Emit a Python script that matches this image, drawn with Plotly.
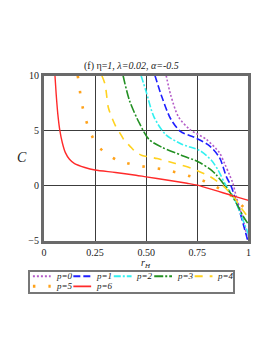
import plotly.graph_objects as go

W, H = 273, 353

# ---- data ----
labels = ["p=0", "p=1", "p=2", "p=3", "p=4", "p=5", "p=6"]

x_p0 = [0.598, 0.619, 0.658, 0.714, 0.794, 0.858, 0.884, 0.908, 0.924, 0.94, 0.96, 0.98, 0.998]
c_p0 = [10, 8.3, 6.25, 5.1, 4.2, 3.0, 2.0, 0.96, 0.23, -0.95, -2.2, -3.5, -5.0]

x_p1 = [0.543, 0.578, 0.619, 0.667, 0.739, 0.81, 0.86, 0.892, 0.916, 0.932, 0.955, 0.975, 0.997]
c_p1 = [10, 8.0, 6.1, 4.94, 4.36, 3.62, 2.5, 0.82, -0.06, -0.95, -2.2, -3.5, -5.0]

x_p2 = [0.475, 0.499, 0.538, 0.595, 0.674, 0.763, 0.82, 0.852, 0.884, 0.924, 0.95, 0.975, 1.0]
c_p2 = [10, 8.6, 6.25, 4.65, 3.77, 3.18, 2.28, 1.4, 0.23, -0.94, -2.0, -3.2, -4.4]

x_p3 = [0.387, 0.419, 0.467, 0.514, 0.578, 0.674, 0.754, 0.82, 0.844, 0.876, 0.916, 0.95, 0.975, 1.0]
c_p3 = [10, 7.7, 5.67, 4.2, 3.48, 2.75, 2.17, 1.4, 0.96, 0.23, -0.79, -1.9, -2.8, -3.5]

x_p4 = [0.283, 0.299, 0.315, 0.331, 0.355, 0.371, 0.395, 0.419, 0.45, 0.48, 0.554, 0.643, 0.722, 0.81, 0.875, 0.932, 0.96, 1.0]
c_p4 = [10, 9.2, 7.1, 6.25, 5.24, 4.8, 4.06, 3.62, 3.04, 2.75, 2.46, 2.02, 1.58, 0.85, 0.0, -1.1, -1.9, -2.9]

x_p5 = [0.165, 0.171, 0.18, 0.195, 0.217, 0.248, 0.296, 0.36, 0.433, 0.508, 0.582, 0.655, 0.726, 0.8, 0.866, 0.933, 0.988, 1.0]
c_p5 = [10, 9.4, 8.04, 6.67, 5.32, 4.06, 3.01, 2.31, 1.93, 1.67, 1.49, 1.17, 0.79, 0.29, -0.35, -1.14, -2.2, -2.4]

x_p6 = [0.054, 0.06, 0.068, 0.078, 0.09, 0.105, 0.125, 0.15, 0.2, 0.25, 0.35, 0.45, 0.5, 0.6, 0.7, 0.75, 0.8, 0.85, 0.9, 0.95, 1.0]
c_p6 = [10, 8.3, 6.5, 5.0, 3.9, 3.0, 2.4, 2.0, 1.65, 1.42, 1.2, 0.95, 0.8, 0.52, 0.22, 0.05, -0.22, -0.5, -0.78, -1.06, -1.33]

xs = [x_p0, x_p1, x_p2, x_p3, x_p4, x_p5, x_p6]
cs = [c_p0, c_p1, c_p2, c_p3, c_p4, c_p5, c_p6]

x_tickvals = [0, 0.25, 0.5, 0.75, 1]
x_ticktext = ["0", "0.25", "0.50", "0.75", "1"]
y_tickvals = [-5, 0, 5, 10]
y_ticktext = ["\u22125", "0", "5", "10"]

# ---- styles ----
colors = ["#b45cc8", "#1f1fff", "#33f0f0", "#239023", "#ffd21f", "#ffa21a", "#ff2a2a"]
dashes = ["2px,2px", "7px,3px", "7px,2px,2px,2px", "9px,2px,2px,2px", "8px,7px", "2.5px,13px", "solid"]
widths = [1.6, 1.6, 1.6, 1.6, 1.6, 2.6, 1.4]

SERIF = "Liberation Serif, Times New Roman, serif"

fig = go.Figure()

for i in range(len(labels)):
    fig.add_trace(go.Scatter(
        x=xs[i], y=cs[i], mode="lines",
        line=dict(color=colors[i], dash=dashes[i], width=widths[i], shape="spline", smoothing=0.8),
        showlegend=False, xaxis="x", yaxis="y", hoverinfo="skip"))

# ---- custom legend drawn in a small helper axes ----
per_row = 5
for i in range(len(labels)):
    col = i % per_row
    row = i // per_row
    yy = 1.55 - row * 1.0
    fig.add_trace(go.Scatter(
        x=[col + 0.06, col + 0.5], y=[yy, yy], mode="lines",
        line=dict(color=colors[i], dash=dashes[i], width=widths[i] + 0.4),
        showlegend=False, xaxis="x2", yaxis="y2", hoverinfo="skip"))
    fig.add_annotation(
        x=col + 0.57, y=yy, xref="x2", yref="y2", xanchor="left", yanchor="middle",
        text="<i>" + labels[i] + "</i>", showarrow=False,
        font=dict(family=SERIF, size=9, color="#222"))

X0, X1 = 42.7 / W, 251.0 / W
Y0, Y1 = 1 - 243.0 / H, 1 - 72.0 / H

fig.update_layout(
    width=W, height=H,
    margin=dict(l=0, r=0, t=0, b=0),
    paper_bgcolor="white", plot_bgcolor="white",
    showlegend=False,
    xaxis=dict(domain=[X0, X1], range=[0, 1], tickvals=x_tickvals, ticktext=x_ticktext,
               showgrid=True, gridcolor="#3c3c3c", gridwidth=1.3,
               showline=True, mirror=True, linecolor="#6a6a6a", linewidth=3,
               zeroline=False, ticks="", tickfont=dict(family=SERIF, size=10, color="#222"),
               anchor="y"),
    yaxis=dict(domain=[Y0, Y1], range=[-5, 10], tickvals=y_tickvals, ticktext=y_ticktext,
               showgrid=True, gridcolor="#3c3c3c", gridwidth=1.3,
               showline=True, mirror=True, linecolor="#6a6a6a", linewidth=3,
               zeroline=False, ticks="", tickfont=dict(family=SERIF, size=10, color="#222"),
               anchor="x"),
    xaxis2=dict(domain=[29 / W, 235 / W], range=[0, 5], showgrid=False, zeroline=False,
                showticklabels=False, ticks="", showline=True, mirror=True,
                linecolor="#777", linewidth=1.5, anchor="y2", fixedrange=True),
    yaxis2=dict(domain=[1 - 296 / H, 1 - 275 / H], range=[0, 2], showgrid=False, zeroline=False,
                showticklabels=False, ticks="", showline=True, mirror=True,
                linecolor="#777", linewidth=1.5, anchor="x2", fixedrange=True),
)

# title and axis labels
fig.add_annotation(x=132 / W, y=1 - 62 / H, xref="paper", yref="paper",
                   text="(f) \u03b7=<i>1</i>, <i>\u03bb=0.02</i>, <i>\u03b1=-0.5</i>",
                   showarrow=False, xanchor="center", yanchor="middle",
                   font=dict(family=SERIF, size=10, color="#222"))
fig.add_annotation(x=20 / W, y=1 - 157 / H, xref="paper", yref="paper",
                   text="<i>C</i>", showarrow=False, xanchor="center", yanchor="middle",
                   font=dict(family=SERIF, size=14, color="#222"))
fig.add_annotation(x=147 / W, y=1 - 267 / H, xref="paper", yref="paper",
                   text="<i>r<sub>H</sub></i>", showarrow=False, xanchor="center", yanchor="middle",
                   font=dict(family=SERIF, size=10, color="#222"))

fig.write_html("out.html", config={"displayModeBar": False},
               post_script="document.body.style.margin='0';")
